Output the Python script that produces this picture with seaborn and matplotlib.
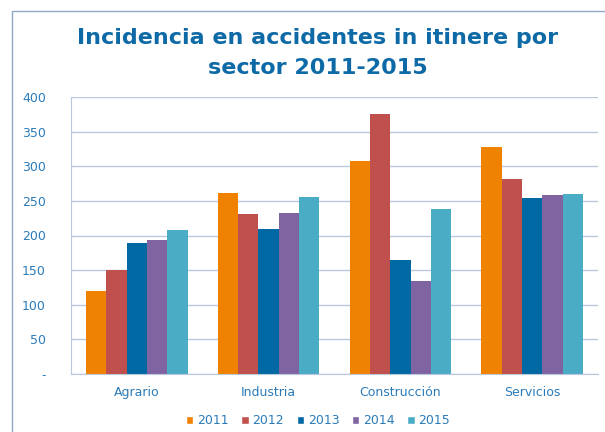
import pandas as pd
import matplotlib.pyplot as plt
import seaborn as sns
from matplotlib.patches import Rectangle, Patch

# Data
sectores = ['Agrario', 'Industria', 'Construcción', 'Servicios']
anios = ['2011', '2012', '2013', '2014', '2015']
v2011 = [120, 261, 307, 328]
v2012 = [150, 231, 376, 281]
v2013 = [189, 210, 165, 254]
v2014 = [194, 232, 134, 259]
v2015 = [208, 255, 238, 260]
colores = ['#ef8200', '#c0504d', '#0069a3', '#8064a2', '#4bacc6']

valores = [v2011, v2012, v2013, v2014, v2015]
rows = []
for anio, serie in zip(anios, valores):
    for sector, v in zip(sectores, serie):
        rows.append({'Sector': sector, 'Año': anio, 'Incidencia': v})
df = pd.DataFrame(rows)

txt_color = '#2b7bb9'
grid_color = '#b9c8dc'

sns.set_style('white')
plt.rcParams['font.family'] = ['DejaVu Sans']

fig = plt.figure(figsize=(6.05, 4.32), dpi=100)
ax = fig.add_axes([71 / 605, 58 / 432, 527 / 605, 277 / 432])

sns.barplot(data=df, x='Sector', y='Incidencia', hue='Año', order=sectores,
            hue_order=anios, palette=colores, width=0.77, saturation=1,
            linewidth=0, legend=False, ax=ax)

ax.set_ylim(0, 400)
ax.set_xlim(-0.5, 3.5)
ax.set_yticks(range(0, 401, 50))
ax.set_yticklabels(['-'] + [str(v) for v in range(50, 401, 50)])
ax.yaxis.grid(True, color=grid_color, linewidth=1)
ax.set_axisbelow(True)
ax.set_xlabel('')
ax.set_ylabel('')

for s in ['top', 'right']:
    ax.spines[s].set_visible(False)
ax.spines['left'].set_color(grid_color)
ax.spines['bottom'].set_color(grid_color)

ax.tick_params(axis='y', colors=grid_color, labelcolor=txt_color,
               labelsize=9, length=4, width=1, pad=14)
ax.tick_params(axis='x', which='major', length=0, labelcolor=txt_color,
               labelsize=9, pad=16)
for lab in ax.get_xticklabels():
    lab.set_verticalalignment('baseline')
ax.set_xticks([-0.5, 0.5, 1.5, 2.5, 3.5], minor=True)
ax.tick_params(axis='x', which='minor', length=4, width=1, colors=grid_color)

fig.text(318 / 605, 1 - 38 / 432, 'Incidencia en accidentes in itinere por',
         ha='center', va='center', fontsize=16, fontweight='bold', color='#0e6aa6')
fig.text(318 / 605, 1 - 68 / 432, 'sector 2011-2015',
         ha='center', va='center', fontsize=16, fontweight='bold', color='#0e6aa6')

handles = [Patch(facecolor=c, label=a) for c, a in zip(colores, anios)]
fig.legend(handles=handles, loc='center', bbox_to_anchor=(318 / 605, 1 - 421 / 432),
           ncol=5, frameon=False, fontsize=9, labelcolor=txt_color,
           handlelength=0.6, handleheight=0.6, handletextpad=0.3,
           columnspacing=1.0)

# chart frame
fig.patches.append(Rectangle((12 / 605, -0.1), 1.2, 1.1 - 11 / 432,
                             transform=fig.transFigure, fill=False,
                             edgecolor='#8fa8c8', linewidth=1))

fig.savefig('out.png', dpi=100)
